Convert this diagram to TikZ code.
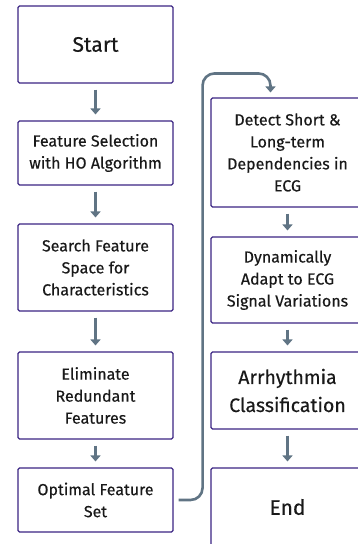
\documentclass[tikz,border=0pt]{standalone}
\usepackage{fontspec}
\setmainfont{Fira Sans}[FakeBold=0.4]
\usetikzlibrary{arrows.meta}
\definecolor{boxline}{RGB}{58,36,130}
\definecolor{flowgray}{RGB}{96,116,132}

\begin{document}
\begin{tikzpicture}[x=1pt, y=1pt, font=\fontsize{16}{22}\selectfont,
  stepbox/.style={draw=boxline, line width=1.1pt, rounded corners=1.5pt, align=center, text=black!90, inner sep=0pt},
  leftbox/.style={stepbox, minimum width=155pt},
  rightbox/.style={stepbox, minimum width=153pt},
  flow/.style={-{Triangle[width=10pt,length=6pt]}, draw=flowgray, line width=2.6pt, shorten <=6pt, shorten >=6pt}]
  \useasboundingbox (0,0) rectangle (358,-544);
  % left column
  \node[leftbox, minimum height=77pt, font=\fontsize{21}{24}\selectfont] (start) at (95.5,-44.5) {Start};
  \node[leftbox, minimum height=64pt] (featsel) at (95.5,-153) {Feature Selection\\with HO Algorithm};
  \node[leftbox, minimum height=87pt] (search) at (95.5,-267.5) {Search Feature\\Space for\\Characteristics};
  \node[leftbox, minimum height=87pt] (elim) at (95.5,-395.5) {Eliminate\\Redundant\\Features};
  \node[leftbox, minimum height=64pt] (optimal) at (95.5,-500) {Optimal Feature\\Set};
  % right column
  \node[rightbox, minimum height=109pt] (detect) at (287.5,-152.5) {Detect Short \&\\Long-term\\Dependencies in\\ECG};
  \node[rightbox, minimum height=86pt] (adapt) at (287.5,-280) {Dynamically\\Adapt to ECG\\Signal Variations};
  \node[rightbox, minimum height=77pt, font=\fontsize{19.5}{28}\selectfont] (classif) at (287.5,-390.5) {Arrhythmia\\Classification};
  \node[rightbox, minimum height=78pt, font=\fontsize{21}{24}\selectfont] (end) at (287.5,-507) {End};

  \draw[flow] (start) -- (featsel);
  \draw[flow] (featsel) -- (search);
  \draw[flow] (search) -- (elim);
  \draw[flow] (elim) -- (optimal);
  \draw[flow, rounded corners=12pt, shorten <=5pt, shorten >=5pt] (optimal.east) -- ++(29,0) |- ([xshift=-17pt, yshift=24pt]detect.north) -- ([xshift=-17pt]detect.north);
  \draw[flow] (detect) -- (adapt);
  \draw[flow] (adapt) -- (classif);
  \draw[flow] (classif) -- (end);
\end{tikzpicture}
\end{document}
